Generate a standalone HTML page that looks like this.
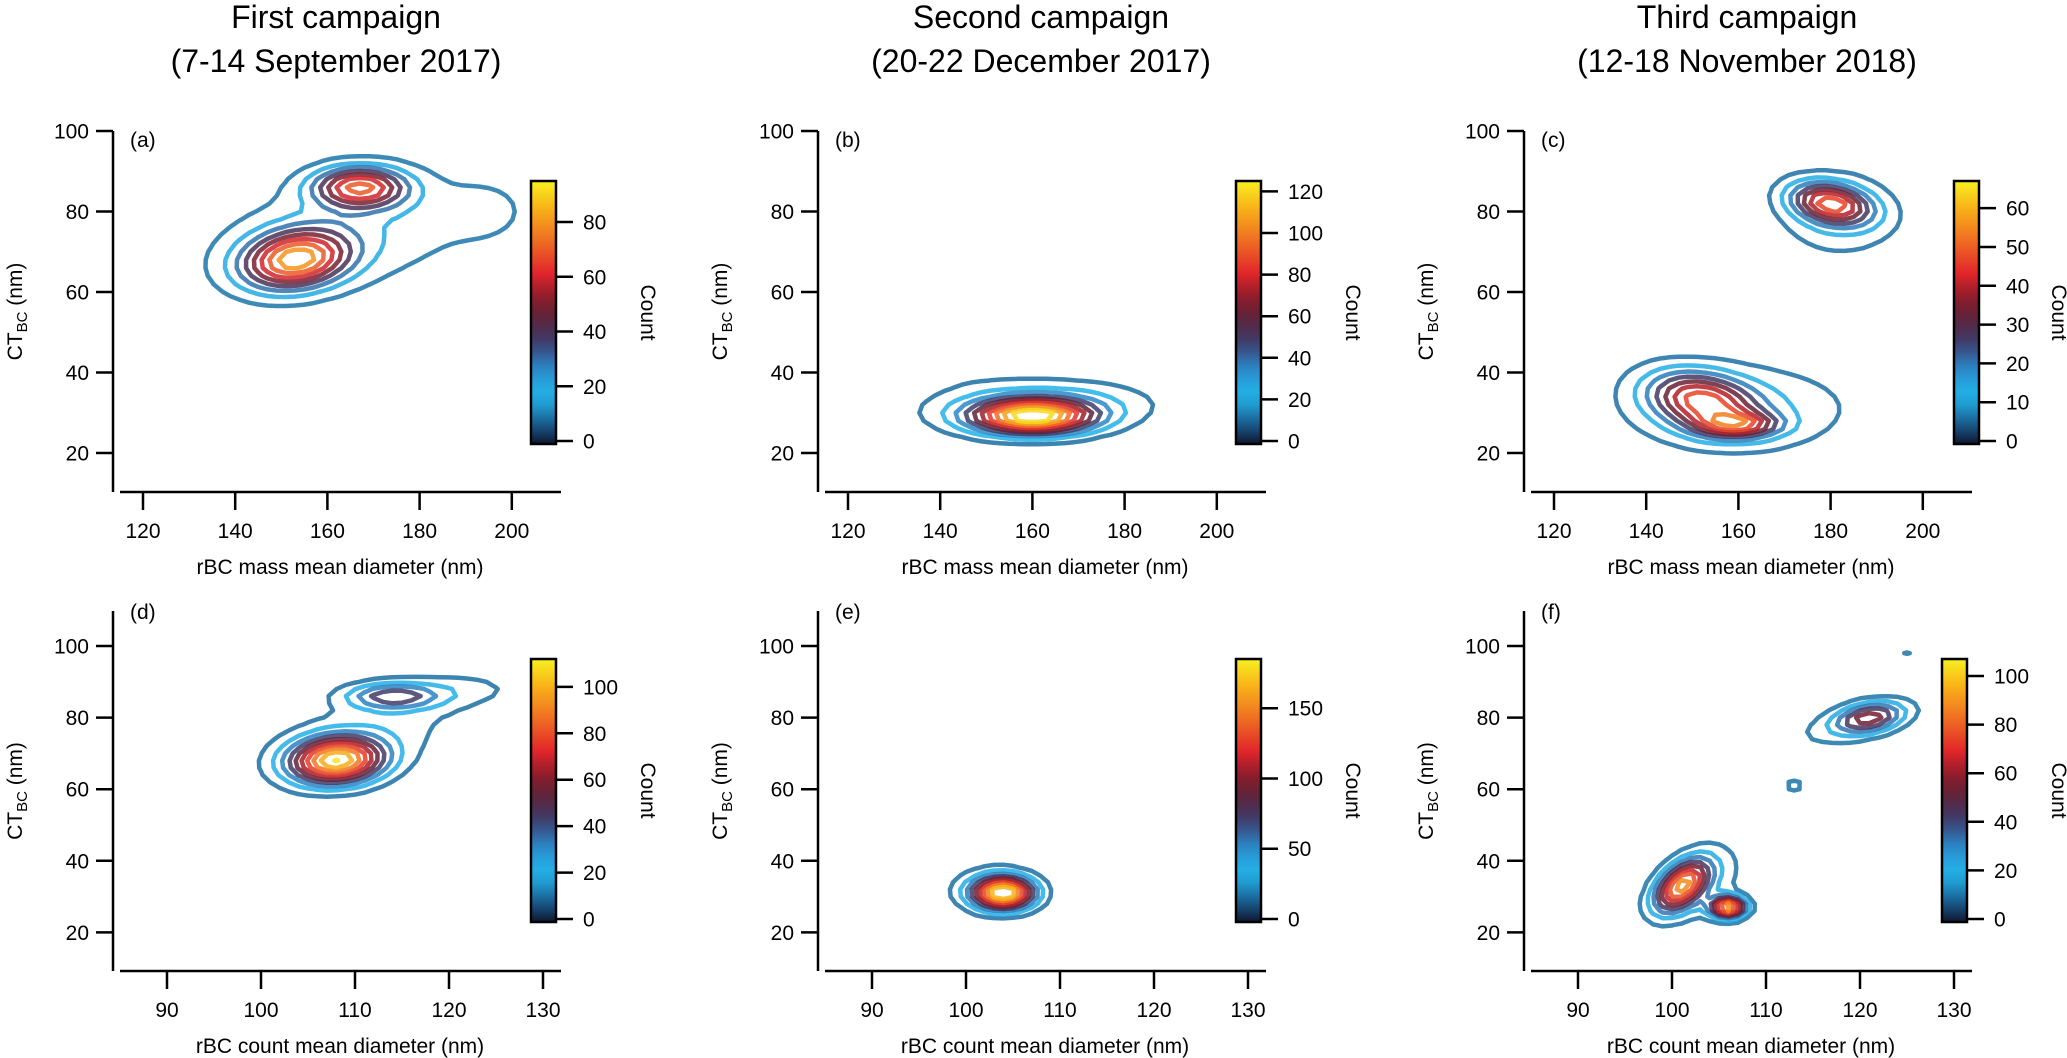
<!DOCTYPE html>
<html><head><meta charset="utf-8"><style>
html,body{margin:0;padding:0;background:#fff;}
svg{display:block;font-family:"Liberation Sans",Arial,sans-serif;}
</style></head><body>
<svg id="fig" width="2067" height="1058" viewBox="0 0 2067 1058" xmlns="http://www.w3.org/2000/svg">
<g font-size="32" text-anchor="middle" fill="#000">
<text x="336" y="28">First campaign</text>
<text x="336" y="72">(7-14 September 2017)</text>
<text x="1041" y="28">Second campaign</text>
<text x="1041" y="72">(20-22 December 2017)</text>
<text x="1747" y="28">Third campaign</text>
<text x="1747" y="72">(12-18 November 2018)</text>
</g>
<defs id="defs"></defs>
</svg>
<script>
// ---- data ----
const xTicksTop = [120, 140, 160, 180, 200];
const xTicksBottom = [90, 100, 110, 120, 130];
const yTicks = [20, 40, 60, 80, 100];
const panelLetters = ['(a)', '(b)', '(c)', '(d)', '(e)', '(f)'];
const cbarMax = [95, 125, 67, 112, 185, 107];
const levelStep = [10, 12, 6.7, 11, 18.5, 11];
const cbarTicks_a = [0, 20, 40, 60, 80];
const cbarTicks_b = [0, 20, 40, 60, 80, 100, 120];
const cbarTicks_c = [0, 10, 20, 30, 40, 50, 60];
const cbarTicks_d = [0, 20, 40, 60, 80, 100];
const cbarTicks_e = [0, 50, 100, 150];
const cbarTicks_f = [0, 20, 40, 60, 80, 100];
// Gaussian components of count density per panel
const compX_a = [153, 167, 165, 195];
const compY_a = [68, 86, 75, 80];
const compSX_a = [8, 7, 22, 6];
const compSY_a = [5, 3.5, 11, 5];
const compAmp_a = [75, 65, 18, 8];
const compRho_a = [0.2, 0, 0.3, 0];
const compX_b = [160, 158, 142, 172];
const compY_b = [29, 31, 47, 33];
const compSX_b = [9, 16, 8, 14];
const compSY_b = [2.8, 5, 5, 4];
const compAmp_b = [110, 25, 12, 10];
const compRho_b = [0, 0, -0.2, 0];
const compX_c = [152, 160, 160, 180, 182];
const compY_c = [33, 27, 31, 82, 79];
const compSX_c = [8, 6, 18, 6, 10];
const compSY_c = [5, 2, 8, 3.5, 8];
const compAmp_c = [40, 30, 14, 42, 12];
const compRho_c = [-0.3, 0, 0, -0.3, 0];
const compX_d = [108, 114, 112, 122];
const compY_d = [68, 86, 76, 88];
const compSX_d = [3.5, 3.5, 8, 4];
const compSY_d = [4.5, 2.5, 10, 3];
const compAmp_d = [100, 45, 15, 10];
const compRho_d = [0.1, 0, 0.5, 0];
const compX_e = [104, 103, 103];
const compY_e = [31, 32, 51];
const compSX_e = [2.2, 3.5, 1];
const compSY_e = [3, 5, 2];
const compAmp_e = [170, 30, 20];
const compRho_e = [0, 0, 0];
const compX_f = [101, 106, 103, 121, 119, 113, 125];
const compY_f = [33, 27, 34, 80, 78, 61, 98];
const compSX_f = [2, 1.3, 3.5, 2.5, 5, 1.5, 1.2];
const compSY_f = [5, 2, 8, 3, 5, 2, 0.8];
const compAmp_f = [80, 95, 18, 50, 15, 14, 12];
const compRho_f = [0.5, 0, 0.4, 0.3, 0.6, 0, 0];

// ---- layout (not data) ----
const NS = 'http://www.w3.org/2000/svg';
const svg = document.getElementById('fig');
const colOff = [0, 705, 1411];
const cmapStops = [[0, '#0f1630'], [0.08, '#1a5f93'], [0.18, '#22b6ea'], [0.28, '#2a8ecf'], [0.38, '#3b3f70'], [0.48, '#5c2238'], [0.56, '#8e1c2a'], [0.65, '#e2262a'], [0.78, '#f07222'], [0.9, '#f8b418'], [1, '#f8f020']];
function hex2rgb(h){return [parseInt(h.substr(1,2),16),parseInt(h.substr(3,2),16),parseInt(h.substr(5,2),16)];}
function cmap(f){
  f=Math.max(0,Math.min(1,f));
  for(let i=1;i<cmapStops.length;i++){
    if(f<=cmapStops[i][0]){
      const a=cmapStops[i-1],b=cmapStops[i];const t=(f-a[0])/(b[0]-a[0]);
      const ca=hex2rgb(a[1]),cb=hex2rgb(b[1]);
      return 'rgb('+ca.map((v,k)=>Math.round(v+(cb[k]-v)*t)).join(',')+')';
    }
  }
  return cmapStops[cmapStops.length-1][1];
}
function mk(tag, attrs, parent){const e=document.createElementNS(NS,tag);for(const k in attrs)e.setAttribute(k,attrs[k]);(parent||svg).appendChild(e);return e;}

const comps = [
 [compX_a,compY_a,compSX_a,compSY_a,compAmp_a,compRho_a],
 [compX_b,compY_b,compSX_b,compSY_b,compAmp_b,compRho_b],
 [compX_c,compY_c,compSX_c,compSY_c,compAmp_c,compRho_c],
 [compX_d,compY_d,compSX_d,compSY_d,compAmp_d,compRho_d],
 [compX_e,compY_e,compSX_e,compSY_e,compAmp_e,compRho_e],
 [compX_f,compY_f,compSX_f,compSY_f,compAmp_f,compRho_f]];
const cbTicks = [cbarTicks_a,cbarTicks_b,cbarTicks_c,cbarTicks_d,cbarTicks_e,cbarTicks_f];
const letters = ['a','b','c','d','e','f'];

function density(c, x, y){
  let s=0;
  for(let i=0;i<c[0].length;i++){
    const dx=(x-c[0][i])/c[2][i], dy=(y-c[1][i])/c[3][i], r=c[5][i];
    s+=c[4][i]*Math.exp(-(dx*dx-2*r*dx*dy+dy*dy)/(2*(1-r*r)));
  }
  return s;
}

for(let p=0;p<6;p++){
  const row = p<3?0:1, col=p%3, off=colOff[col];
  const g = mk('g',{});
  
  
  let X,Y,xr,yr,axisXTop,axisXBottom,xt,dxg,dyg,cbTop,cbBot,cbZero,cbLeft;
  if(row===0){
    X=v=>off+143+(v-120)*4.61; Y=v=>131+(100-v)*4.025;
    xr=[115,212]; yr=[10,100]; axisXTop=131; axisXBottom=492; xt=xTicksTop; dxg=2; dyg=2;
    cbTop=181; cbBot=444; cbZero=441;
  } else {
    X=v=>off+167+(v-90)*9.4; Y=v=>646+(100-v)*3.58;
    xr=[85,133]; yr=[10,110]; axisXTop=611; axisXBottom=971; xt=xTicksBottom; dxg=1; dyg=2;
    cbTop=659; cbBot=922; cbZero=919;
  }
  cbLeft = (p===2)?1954:off+531;
  const countX = (p===2)?cbLeft+98:cbLeft+110;
  const yAxisX = off+113;
  const c = comps[p];
  const nx=Math.round((xr[1]-xr[0])/dxg), ny=Math.round((yr[1]-yr[0])/dyg);
  const grid=[];
  for(let j=0;j<=ny;j++){grid.push([]);for(let i=0;i<=nx;i++)grid[j].push(density(c,xr[0]+i*dxg,yr[0]+j*dyg));}
  const cg = mk('g',{},g);
  
  
  for(let L=levelStep[p]; L<cbarMax[p]; L+=levelStep[p]){
    let d='';
    for(let j=0;j<ny;j++)for(let i=0;i<nx;i++){
      const v=[grid[j][i],grid[j][i+1],grid[j+1][i+1],grid[j+1][i]];
      const px=[xr[0]+i*dxg,xr[0]+(i+1)*dxg,xr[0]+(i+1)*dxg,xr[0]+i*dxg];
      const py=[yr[0]+j*dyg,yr[0]+j*dyg,yr[0]+(j+1)*dyg,yr[0]+(j+1)*dyg];
      const pts={};
      for(let e=0;e<4;e++){
        const a=e,b=(e+1)%4;
        if((v[a]>=L)!==(v[b]>=L)){
          const t=(L-v[a])/(v[b]-v[a]);
          pts[e]=[X(px[a]+(px[b]-px[a])*t),Y(py[a]+(py[b]-py[a])*t)];
        }
      }
      const ks=Object.keys(pts).map(Number);
      const seg=(e1,e2)=>{d+='M'+pts[e1][0].toFixed(1)+' '+pts[e1][1].toFixed(1)+'L'+pts[e2][0].toFixed(1)+' '+pts[e2][1].toFixed(1);};
      if(ks.length===2)seg(ks[0],ks[1]);
      else if(ks.length===4){
        const ctr=(v[0]+v[1]+v[2]+v[3])/4;
        if((ctr>=L)===(v[0]>=L)){seg(0,1);seg(2,3);}else{seg(0,3);seg(1,2);}
      }
    }
    const path=mk('path',{d:d,fill:'none',stroke:cmap(L/cbarMax[p]),'stroke-width':4.5,'stroke-linecap':'round','stroke-linejoin':'round','stroke-opacity':0.85},cg);
    
    
  }
  const ax=mk('g',{stroke:'#000','stroke-width':2.5,fill:'none'},g);
  
  
  mk('line',{x1:yAxisX,y1:axisXTop,x2:yAxisX,y2:axisXBottom},ax);
  mk('line',{x1:off+120,y1:axisXBottom,x2:off+561,y2:axisXBottom},ax);
  const tl=mk('g',{'font-size':21,fill:'#000'},g);
  
  
  yTicks.forEach(v=>{
    mk('line',{x1:yAxisX-17,y1:Y(v),x2:yAxisX,y2:Y(v)},ax);
    const t=mk('text',{x:yAxisX-24,y:Y(v)+7.5,'text-anchor':'end'},tl);t.textContent=v;
  });
  xt.forEach(v=>{
    mk('line',{x1:X(v),y1:axisXBottom,x2:X(v),y2:axisXBottom+18},ax);
    const t=mk('text',{x:X(v),y:axisXBottom+46,'text-anchor':'middle'},tl);t.textContent=v;
  });
  const xl=mk('text',{x:off+340,y:axisXBottom+82,'text-anchor':'middle','font-size':21},g);
  xl.textContent=row===0?'rBC mass mean diameter (nm)':'rBC count mean diameter (nm)';
  
  
  const ymid=(axisXTop+axisXBottom)/2;
  const yl=mk('text',{x:0,y:0,'text-anchor':'middle','font-size':21,transform:'translate('+(off+22)+','+ymid+') rotate(-90)'},g);
  yl.innerHTML='CT<tspan font-size="15" dy="5">BC</tspan><tspan dy="-5"> (nm)</tspan>';
  
  
  const lt=mk('text',{x:off+130,y:axisXTop+(row===0?16:8),'font-size':21},g);
  lt.textContent=panelLetters[p];
  
  
  const gid='grad'+p;
  const grad=mk('linearGradient',{id:gid,x1:0,y1:1,x2:0,y2:0},document.getElementById('defs'));
  for(let k=0;k<=20;k++)mk('stop',{offset:k/20,'stop-color':cmap(k/20)},grad);
  const cb=mk('g',{},g);
  
  
  mk('rect',{x:cbLeft,y:cbTop,width:25,height:cbBot-cbTop,fill:'url(#'+gid+')',stroke:'#000','stroke-width':2.5},cb);
  const scale=(cbZero-cbTop)/cbarMax[p];
  cbTicks[p].forEach(v=>{
    const yy=cbZero-v*scale;
    mk('line',{x1:cbLeft+25,y1:yy,x2:cbLeft+42,y2:yy,stroke:'#000','stroke-width':2.5},cb);
    const t=mk('text',{x:cbLeft+52,y:yy+7.5,'font-size':21},cb);t.textContent=v;
  });
  const cl=mk('text',{x:0,y:0,'text-anchor':'middle','font-size':21,transform:'translate('+countX+','+((cbTop+cbBot)/2)+') rotate(90)'},cb);
  cl.textContent='Count';
  
  
}
</script>
</body></html>
